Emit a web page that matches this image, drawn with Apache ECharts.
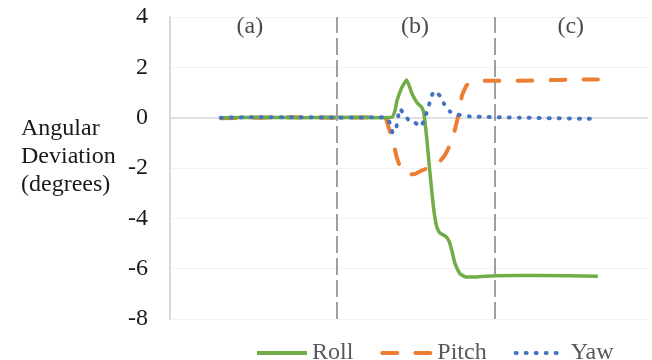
<!DOCTYPE html>
<html>
<head>
<meta charset="utf-8">
<script src="https://cdn.jsdelivr.net/npm/echarts@6/dist/echarts.min.js"></script>
<style>html,body{margin:0;padding:0;background:#fff}#c{width:652px;height:360px}</style>
</head>
<body>
<div id="c"></div>
<script>
// time (normalized sample units) and angular deviation (degrees)
const rollT   = [0, 10.3, 21.0, 31.6, 42.2, 45.4, 46.2, 46.7, 48.0, 49.3, 50.7, 52.0, 53.3, 53.8, 54.6, 55.4, 56.2, 56.8, 57.3, 58.1, 59.7, 60.5, 61.3, 62.1, 63.4, 65.0, 67.4, 72.7, 84.6, 100];
const rollV   = [0.0, 0.02, 0.0, 0.02, 0.0, 0.02, 0.28, 0.67, 1.2, 1.5, 0.95, 0.6, 0.4, 0.2, -0.8, -2.1, -3.3, -4.0, -4.35, -4.58, -4.72, -4.9, -5.3, -5.8, -6.2, -6.33, -6.33, -6.28, -6.27, -6.3];
const pitchT  = [0, 10.3, 21.0, 31.6, 43.5, 44.3, 45.6, 46.7, 48.0, 49.6, 51.2, 53.3, 54.9, 57.3, 59.4, 61.3, 62.7, 64.0, 65.3, 67.4, 70.0, 79.3, 89.9, 100];
const pitchV  = [-0.02, 0.0, 0.02, 0.0, 0.02, -0.3, -0.9, -1.6, -2.1, -2.25, -2.25, -2.1, -2.0, -1.85, -1.5, -0.9, -0.1, 0.9, 1.3, 1.43, 1.47, 1.47, 1.5, 1.52];
const yawT    = [0, 10.3, 21.0, 31.6, 43.5, 44.8, 45.6, 46.4, 47.5, 48.8, 50.1, 51.5, 53.0, 54.1, 54.9, 55.7, 56.5, 58.1, 59.2, 60.8, 62.9, 66.0, 79.3, 100];
const yawV    = [0.0, 0.02, 0.02, 0.0, 0.02, -0.2, -0.6, -0.5, 0.35, 0.1, -0.15, -0.2, -0.36, 0.0, 0.35, 0.75, 1.05, 0.87, 0.55, 0.24, 0.12, 0.05, 0.0, -0.05];
const phaseBounds = [30.8, 72.7];
const phaseLabels = ['(a)', '(b)', '(c)'];
const phaseLabelT = [7.7, 51.5, 92.8];
const phaseLabelV = 3.6;
const yTicks = {min: -8, max: 4, interval: 2};
const seriesNames = ['Roll', 'Pitch', 'Yaw'];
const yTitle = 'Angular\nDeviation\n(degrees)';

const zip = (t, v) => t.map((x, i) => [x, v[i]]);
const FONT = 'Liberation Serif';

const chart = echarts.init(document.getElementById('c'), null, {renderer: 'canvas'});
chart.setOption({
  animation: false,
  backgroundColor: '#ffffff',
  grid: {left: 170, right: 4, top: 17, bottom: 41, containLabel: false},
  xAxis: {
    type: 'value', min: -13.5, max: 113.3,
    axisLine: {show: true, onZero: true, lineStyle: {color: '#d9d9d9', width: 1.5}},
    axisTick: {show: false}, axisLabel: {show: false}, splitLine: {show: false}
  },
  yAxis: {
    type: 'value', min: yTicks.min, max: yTicks.max, interval: yTicks.interval,
    axisLine: {show: true, onZero: false, lineStyle: {color: '#d9d9d9', width: 2}},
    axisTick: {show: false},
    axisLabel: {fontFamily: FONT, fontSize: 24, color: '#1a1a1a', margin: 22},
    splitLine: {show: true, lineStyle: {color: '#f2f2f2', width: 1}}
  },
  legend: {
    data: seriesNames, left: 250, top: 336, itemWidth: 50, itemHeight: 14, itemGap: 27,
    itemStyle: {opacity: 0},
    lineStyle: {width: 4},
    textStyle: {fontFamily: FONT, fontSize: 24, color: '#595959'}
  },
  graphic: [{
    type: 'text', left: 61 - 40, top: 157 - 42,
    style: {text: yTitle, x: 0, y: 0, fontFamily: FONT, fontSize: 24, lineHeight: 28, fill: '#1a1a1a', align: 'center', width: 80}
  }],
  series: [
    {
      name: 'Roll', type: 'line', data: zip(rollT, rollV), symbol: 'none', smooth: 0.15,
      lineStyle: {color: '#70ad47', width: 3.5}, itemStyle: {color: '#70ad47'}, z: 3,
      markLine: {
        silent: true, symbol: 'none', label: {show: false},
        lineStyle: {color: '#a0a0a0', width: 2, type: [17, 5]},
        data: phaseBounds.map(x => ({xAxis: x}))
      }
    },
    {
      name: 'Pitch', type: 'line', data: zip(pitchT, pitchV), symbol: 'none', smooth: 0.15,
      lineStyle: {color: '#ed7d31', width: 4, type: [15, 18], cap: 'round'}, itemStyle: {color: '#ed7d31'}, z: 2
    },
    {
      name: 'Yaw', type: 'line', data: zip(yawT, yawV), symbol: 'none', smooth: 0.15,
      lineStyle: {color: '#4472c4', width: 4, type: [1, 9], cap: 'round'}, itemStyle: {color: '#4472c4'}, z: 4
    },
    {
      name: 'phases', type: 'scatter', symbolSize: 0, silent: true,
      data: phaseLabelT.map((t, i) => ({value: [t, phaseLabelV], name: phaseLabels[i]})),
      label: {show: true, position: 'inside', formatter: p => p.name, fontFamily: FONT, fontSize: 24, color: '#1a1a1a'}
    }
  ]
});
</script>
</body>
</html>
